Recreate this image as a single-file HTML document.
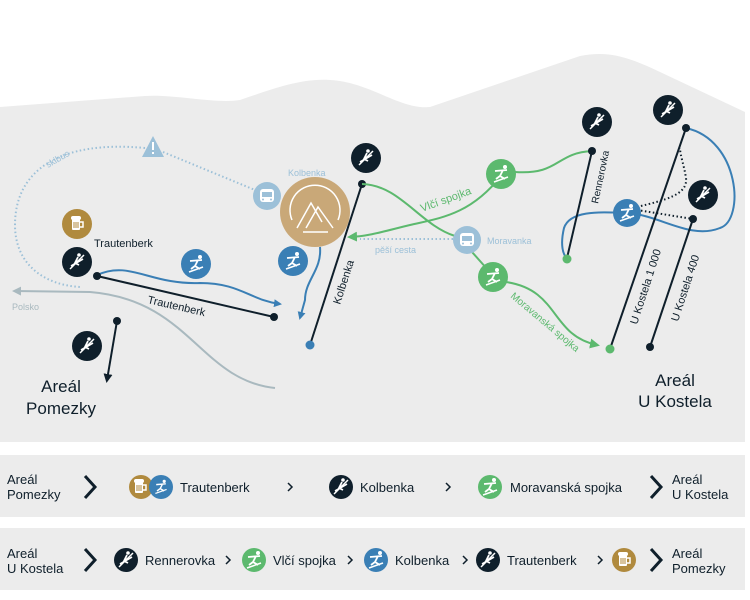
<!DOCTYPE html>
<html><head><meta charset="utf-8"><style>
html,body{margin:0;padding:0;background:#fff}
svg{display:block}
text{font-family:"Liberation Sans",sans-serif}
</style></head><body>
<svg width="750" height="600" viewBox="0 0 750 600" xmlns="http://www.w3.org/2000/svg">
<defs>
<g id="lift"><path d="M-7,7 L7,-7" stroke="#fff" stroke-width="1.5"/><path d="M-6,4 L6,-3" stroke="#fff" stroke-width="1.6"/><circle cx="2" cy="-7" r="1.8" fill="#fff"/><path d="M1,-5 L-2,1 L2,3 M-2,1 L3,-2" stroke="#fff" stroke-width="1.8" fill="none"/></g>
<g id="ski"><circle cx="4" cy="-7" r="2" fill="#fff"/><path d="M-6,-3 L6,-4 M2,-4 L-1,2 L4,5 M-1,2 L-5,5" stroke="#fff" stroke-width="1.8" fill="none"/><path d="M-7,8 L7,3" stroke="#fff" stroke-width="1.5"/></g>
<g id="beer"><rect x="-5" y="-5" width="8" height="11" rx="1" fill="#fff"/><path d="M3,-2 h3 v5 h-3" stroke="#fff" stroke-width="1.5" fill="none"/><rect x="-6" y="-8" width="10" height="4" rx="2" fill="#fff"/><path d="M-3,-2 v6 M-1,-2 v6 M1,-2 v6" stroke="#b08a3e" stroke-width="1"/></g>
<g id="bus"><rect x="-7" y="-7" width="14" height="13" rx="3" fill="#fff"/><rect x="-5" y="-4" width="10" height="5" fill="#9cc0d8"/><circle cx="-4" cy="3.5" r="1" fill="#9cc0d8"/><circle cx="4" cy="3.5" r="1" fill="#9cc0d8"/></g>
<marker id="ab" markerWidth="8" markerHeight="8" refX="6" refY="4" orient="auto" markerUnits="userSpaceOnUse"><path d="M0,0 L8,4 L0,8z" fill="#3a7fb5"/></marker>
<marker id="ag" markerWidth="10" markerHeight="10" refX="7" refY="5" orient="auto" markerUnits="userSpaceOnUse"><path d="M0,0 L10,5 L0,10z" fill="#5cb96e"/></marker>
<marker id="ak" markerWidth="9" markerHeight="9" refX="6" refY="4.5" orient="auto" markerUnits="userSpaceOnUse"><path d="M0,0 L9,4.5 L0,9z" fill="#0f1f2b"/></marker>
<marker id="agr" markerWidth="9" markerHeight="9" refX="6" refY="4.5" orient="auto" markerUnits="userSpaceOnUse"><path d="M0,0 L9,4.5 L0,9z" fill="#a9b9bf"/></marker>
</defs>
<!-- terrain -->
<path d="M0,107 L145,96 C175,94 215,104 240,100 C270,90 300,78 330,80 C370,82 400,110 430,107 L580,56 C610,50 630,58 660,72 L745,112 L745,442 L0,442Z" fill="#ececec"/>
<!-- panels -->
<rect x="0" y="455" width="745" height="62" fill="#ececec"/>
<rect x="0" y="528" width="745" height="62" fill="#ececec"/>

<!-- skibus dotted -->
<path d="M145,148 C60,140 15,170 15,225 C15,265 45,285 80,287" stroke="#9cc0d8" stroke-width="2" stroke-dasharray="1.5 2.5" fill="none"/>
<path d="M163,152 L255,190" stroke="#9cc0d8" stroke-width="2" stroke-dasharray="1.5 2.5" fill="none"/>
<text x="48" y="168" font-size="9" fill="#9cc0d8" transform="rotate(-30 48 168)">skibus</text>
<path d="M153,136 L164,157 L142,157Z" fill="#9cc0d8"/><rect x="152" y="142" width="2" height="8" fill="#fff"/><rect x="152" y="152" width="2" height="2" fill="#fff"/>

<!-- Polsko -->
<path d="M275,388 C200,380 190,300 90,292 L15,291" stroke="#a9b9bf" stroke-width="2" fill="none" marker-end="url(#agr)"/>
<text x="12" y="310" font-size="9" fill="#a9b9bf">Polsko</text>

<!-- Trautenberk -->
<path d="M97,275 C130,260 150,285 200,283 C240,283 250,300 280,304" stroke="#3a7fb5" stroke-width="2" fill="none" marker-end="url(#ab)"/>
<line x1="97" y1="276" x2="274" y2="317" stroke="#0f1f2b" stroke-width="2"/>
<circle cx="97" cy="276" r="4" fill="#0f1f2b"/><circle cx="274" cy="317" r="4" fill="#0f1f2b"/>
<text x="147" y="303" font-size="11" fill="#0f1f2b" transform="rotate(13 147 303)">Trautenberk</text>
<circle cx="77" cy="224" r="15" fill="#b08a3e"/><use href="#beer" x="77" y="224"/>
<text x="94" y="247" font-size="11" fill="#0f1f2b">Trautenberk</text>
<circle cx="77" cy="262" r="15" fill="#0f1f2b"/><use href="#lift" x="77" y="262"/>
<circle cx="196" cy="264" r="15" fill="#3a7fb5"/><use href="#ski" x="196" y="264"/>

<!-- Pomezky -->
<line x1="117" y1="321" x2="107" y2="380" stroke="#0f1f2b" stroke-width="2" marker-end="url(#ak)"/>
<circle cx="117" cy="321" r="4" fill="#0f1f2b"/>
<circle cx="87" cy="346" r="15" fill="#0f1f2b"/><use href="#lift" x="87" y="346"/>
<text x="61" y="392" font-size="17" fill="#0f1f2b" text-anchor="middle">Areál</text>
<text x="61" y="414" font-size="17" fill="#0f1f2b" text-anchor="middle">Pomezky</text>

<!-- Kolbenka -->
<text x="288" y="176" font-size="9" fill="#9cc0d8">Kolbenka</text>
<circle cx="267" cy="196" r="14" fill="#9cc0d8"/><use href="#bus" x="267" y="196"/>
<circle cx="315" cy="212" r="35" fill="#c9a878"/>
<path d="M292,220 A25,25 0 1 1 338,220" stroke="#fff" stroke-width="1.5" fill="none"/>
<path d="M297,228 L311,203 L322,222 M306,228 L318,207 L333,228 M303,232 H328" stroke="#fff" stroke-width="1.5" fill="none"/>
<path d="M320,247 C322,270 305,280 305,300 L300,318" stroke="#3a7fb5" stroke-width="2" fill="none" marker-end="url(#ab)"/>
<circle cx="293" cy="261" r="15" fill="#3a7fb5"/><use href="#ski" x="293" y="261"/>
<line x1="310" y1="345" x2="362" y2="184" stroke="#0f1f2b" stroke-width="2"/>
<circle cx="362" cy="184" r="4" fill="#0f1f2b"/><circle cx="310" cy="345" r="4.5" fill="#3a7fb5"/>
<text x="340" y="305" font-size="11" fill="#0f1f2b" transform="rotate(-72 340 305)">Kolbenka</text>
<circle cx="366" cy="158" r="15" fill="#0f1f2b"/><use href="#lift" x="366" y="158"/>

<!-- green -->
<path d="M362,184 C400,185 420,225 455,236" stroke="#5cb96e" stroke-width="2" fill="none"/>
<path d="M501,176 C470,215 440,218 410,225 C385,231 370,236 350,237" stroke="#5cb96e" stroke-width="2" fill="none" marker-end="url(#ag)"/>
<path d="M515,172 C560,175 555,153 592,151" stroke="#5cb96e" stroke-width="2" fill="none"/>
<text x="422" y="212" font-size="11" fill="#5cb96e" transform="rotate(-20 422 212)">Vlčí spojka</text>
<path d="M453,239 L360,239" stroke="#9cc0d8" stroke-width="2" stroke-dasharray="1.5 2.5"/>
<text x="375" y="253" font-size="9" fill="#9cc0d8">pěší cesta</text>
<circle cx="501" cy="174" r="15" fill="#5cb96e"/><use href="#ski" x="501" y="174"/>
<path d="M472,252 L488,270" stroke="#5cb96e" stroke-width="2"/>
<path d="M506,282 C560,290 550,335 597,345" stroke="#5cb96e" stroke-width="2" fill="none" marker-end="url(#ag)"/>
<text x="510" y="297" font-size="10" fill="#5cb96e" transform="rotate(40 510 297)">Moravanská spojka</text>
<circle cx="467" cy="240" r="14" fill="#9cc0d8"/><use href="#bus" x="467" y="240"/>
<text x="487" y="244" font-size="9" fill="#9cc0d8">Moravanka</text>
<circle cx="493" cy="277" r="15" fill="#5cb96e"/><use href="#ski" x="493" y="277"/>

<!-- Rennerovka / U Kostela -->
<path d="M686,128 C740,140 745,220 720,228 C690,240 660,215 627,213 C600,212 570,210 564,228 C560,245 563,255 567,258" stroke="#3a7fb5" stroke-width="2" fill="none"/>
<line x1="592" y1="151" x2="567" y2="258" stroke="#0f1f2b" stroke-width="2"/>
<circle cx="592" cy="151" r="4" fill="#0f1f2b"/><circle cx="567" cy="259" r="4.5" fill="#5cb96e"/>
<text x="598" y="204" font-size="10" fill="#0f1f2b" transform="rotate(-78 598 204)">Rennerovka</text>
<circle cx="597" cy="122" r="15" fill="#0f1f2b"/><use href="#lift" x="597" y="122"/>
<line x1="610" y1="349" x2="686" y2="128" stroke="#0f1f2b" stroke-width="2"/>
<line x1="650" y1="347" x2="693" y2="219" stroke="#0f1f2b" stroke-width="2"/>
<path d="M637,210 L693,219" stroke="#0f1f2b" stroke-width="2" stroke-dasharray="1.5 2.5"/>
<path d="M637,207 C665,200 688,195 686,178 C684,165 680,155 680,148" stroke="#0f1f2b" stroke-width="2" stroke-dasharray="1.5 2.5" fill="none"/>
<circle cx="686" cy="128" r="4" fill="#0f1f2b"/><circle cx="693" cy="219" r="4" fill="#0f1f2b"/>
<circle cx="610" cy="349" r="4.5" fill="#5cb96e"/><circle cx="650" cy="347" r="4" fill="#0f1f2b"/>
<text x="637" y="325" font-size="11" fill="#0f1f2b" transform="rotate(-72 637 325)">U Kostela 1 000</text>
<text x="678" y="322" font-size="11" fill="#0f1f2b" transform="rotate(-72 678 322)">U Kostela 400</text>
<circle cx="668" cy="110" r="15" fill="#0f1f2b"/><use href="#lift" x="668" y="110"/>
<circle cx="703" cy="195" r="15" fill="#0f1f2b"/><use href="#lift" x="703" y="195"/>
<circle cx="627" cy="213" r="14" fill="#3a7fb5"/><use href="#ski" x="627" y="213"/>
<text x="675" y="386" font-size="17" fill="#0f1f2b" text-anchor="middle">Areál</text>
<text x="675" y="407" font-size="17" fill="#0f1f2b" text-anchor="middle">U Kostela</text>

<!-- row 1 -->
<g font-size="13" fill="#0f1f2b">
<text x="7" y="484">Areál</text><text x="7" y="499">Pomezky</text>
<path d="M85,476 L95,487 L85,498" stroke="#0f1f2b" stroke-width="3" fill="none"/>
<circle cx="141" cy="487" r="12" fill="#b08a3e"/><use href="#beer" x="140" y="487"/>
<circle cx="161" cy="487" r="12" fill="#3a7fb5"/><use href="#ski" x="161" y="487" transform="translate(161 487) scale(0.8) translate(-161 -487)"/>
<text x="180" y="492">Trautenberk</text>
<path d="M288,483 L292,487 L288,491" stroke="#0f1f2b" stroke-width="1.5" fill="none"/>
<circle cx="341" cy="487" r="12" fill="#0f1f2b"/><use href="#lift" x="341" y="487"/>
<text x="360" y="492">Kolbenka</text>
<path d="M446,483 L450,487 L446,491" stroke="#0f1f2b" stroke-width="1.5" fill="none"/>
<circle cx="490" cy="487" r="12" fill="#5cb96e"/><use href="#ski" x="490" y="487"/>
<text x="510" y="492">Moravanská spojka</text>
<path d="M651,476 L661,487 L651,498" stroke="#0f1f2b" stroke-width="3" fill="none"/>
<text x="672" y="484">Areál</text><text x="672" y="499">U Kostela</text>
</g>
<!-- row 2 -->
<g font-size="13" fill="#0f1f2b">
<text x="7" y="558">Areál</text><text x="7" y="573">U Kostela</text>
<path d="M85,549 L95,560 L85,571" stroke="#0f1f2b" stroke-width="3" fill="none"/>
<circle cx="126" cy="560" r="12" fill="#0f1f2b"/><use href="#lift" x="126" y="560"/>
<text x="145" y="565">Rennerovka</text>
<path d="M226,556 L230,560 L226,564" stroke="#0f1f2b" stroke-width="1.5" fill="none"/>
<circle cx="254" cy="560" r="12" fill="#5cb96e"/><use href="#ski" x="254" y="560"/>
<text x="273" y="565">Vlčí spojka</text>
<path d="M348,556 L352,560 L348,564" stroke="#0f1f2b" stroke-width="1.5" fill="none"/>
<circle cx="376" cy="560" r="12" fill="#3a7fb5"/><use href="#ski" x="376" y="560"/>
<text x="395" y="565">Kolbenka</text>
<path d="M463,556 L467,560 L463,564" stroke="#0f1f2b" stroke-width="1.5" fill="none"/>
<circle cx="488" cy="560" r="12" fill="#0f1f2b"/><use href="#lift" x="488" y="560"/>
<text x="507" y="565">Trautenberk</text>
<path d="M598,556 L602,560 L598,564" stroke="#0f1f2b" stroke-width="1.5" fill="none"/>
<circle cx="624" cy="560" r="12" fill="#b08a3e"/><use href="#beer" x="624" y="560"/>
<path d="M651,549 L661,560 L651,571" stroke="#0f1f2b" stroke-width="3" fill="none"/>
<text x="672" y="558">Areál</text><text x="672" y="573">Pomezky</text>
</g>
</svg>
</body></html>
